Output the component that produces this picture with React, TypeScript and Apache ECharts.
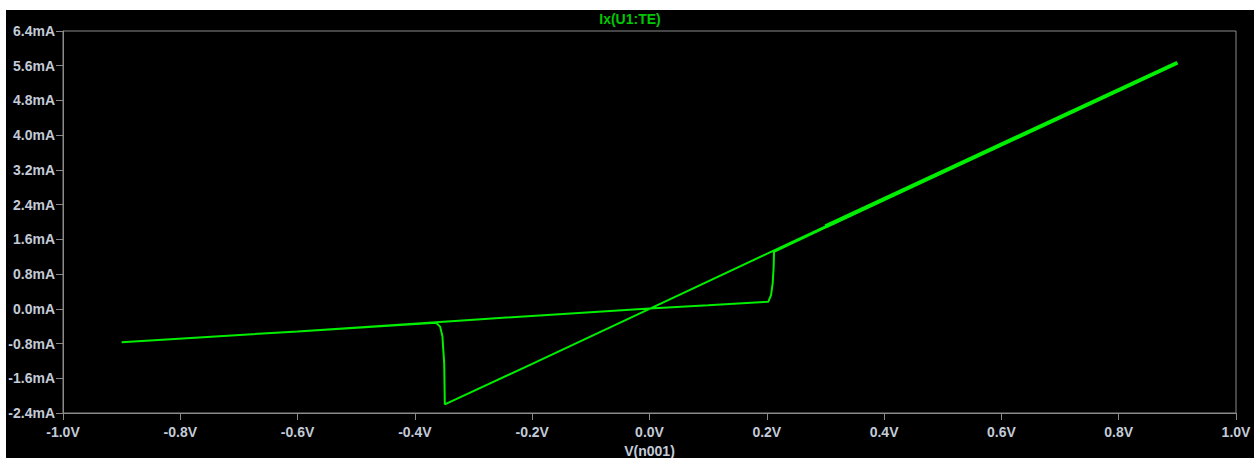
import React, { useEffect, useRef } from "react";
import * as echarts from "echarts";

const titleText = "Ix(U1:TE)";
const xAxisName = "V(n001)";

// Trace path as (voltage V, current mA)
const voltage = [
  0.9, 0.6, 0.3, 0.0, -0.2, -0.349,
  -0.35, -0.352, -0.353, -0.357, -0.364,
  -0.6, -0.9,
  -0.6, -0.3, 0.0, 0.1, 0.2026,
  0.2072, 0.21, 0.2117, 0.2123,
  0.5, 0.9,
];
const currentMA = [
  5.67, 3.78, 1.9, 0.0, -1.27, -2.2,
  -1.26, -0.87, -0.64, -0.41, -0.32,
  -0.52, -0.77,
  -0.52, -0.25, 0.01, 0.08, 0.163,
  0.317, 0.587, 0.97, 1.315,
  3.15, 5.66,
];

const xMin = -1.0, xMax = 1.0, xStep = 0.2;
const yMin = -2.4, yMax = 6.4, yStep = 0.8;

export default function App() {
  const ref = useRef<HTMLDivElement>(null);
  useEffect(() => {
    if (!ref.current) return;
    document.body.style.margin = "0";
    document.body.style.overflow = "hidden";
    const chart = echarts.init(ref.current, undefined, { renderer: "svg" });
    const labelColor = "#c3cbd8";
    const font = "Liberation Sans";
    chart.setOption({
      animation: false,
      backgroundColor: "#000000",
      title: {
        text: titleText,
        left: "center",
        top: 2,
        padding: 0,
        textStyle: { color: "#00c800", fontSize: 14, fontWeight: "bold", fontFamily: font },
      },
      grid: {
        left: 57, right: 18, top: 21, bottom: 45,
        outerBoundsMode: "none",
        containLabel: false,
        show: true, borderColor: "#8a8a8a", borderWidth: 1, backgroundColor: "#000000",
      },
      xAxis: {
        type: "value", min: xMin, max: xMax, interval: xStep,
        name: xAxisName, nameLocation: "middle", nameGap: 30,
        nameTextStyle: { color: labelColor, fontSize: 14, fontWeight: "bold", fontFamily: font },
        axisLine: { show: true, onZero: false, lineStyle: { color: "#8a8a8a" } },
        axisTick: { show: true, inside: false, length: 7, lineStyle: { color: "#8a8a8a" } },
        splitLine: { show: false },
        axisLabel: {
          color: labelColor, fontSize: 14, fontWeight: "bold", fontFamily: font, margin: 12,
          formatter: (v: number) => v.toFixed(1) + "V",
        },
      },
      yAxis: {
        type: "value", min: yMin, max: yMax, interval: yStep,
        axisLine: { show: true, onZero: false, lineStyle: { color: "#8a8a8a" } },
        axisTick: { show: true, inside: false, length: 7, lineStyle: { color: "#8a8a8a" } },
        splitLine: { show: false },
        axisLabel: {
          color: labelColor, fontSize: 14, fontWeight: "bold", fontFamily: font, margin: 8,
          formatter: (v: number) => (Math.abs(v) < 1e-9 ? "0.0" : v.toFixed(1)) + "mA",
        },
      },
      series: [
        {
          type: "line",
          data: voltage.map((v, i) => [v, currentMA[i]]),
          showSymbol: false,
          lineStyle: { color: "#00ee00", width: 2 },
          silent: true,
        },
        {
          type: "line",
          data: [[voltage[0], currentMA[0]], [voltage[2], currentMA[2]]],
          showSymbol: false,
          lineStyle: { color: "#00ee00", width: 4 },
          silent: true,
        },
      ],
    });
    return () => chart.dispose();
  }, []);
  return (
    <div style={{ position: "fixed", left: 0, top: 0, width: 1260, height: 458, background: "#ffffff" }}>
      <div ref={ref} style={{ position: "absolute", left: 6, top: 10, width: 1248, height: 448 }} />
    </div>
  );
}
